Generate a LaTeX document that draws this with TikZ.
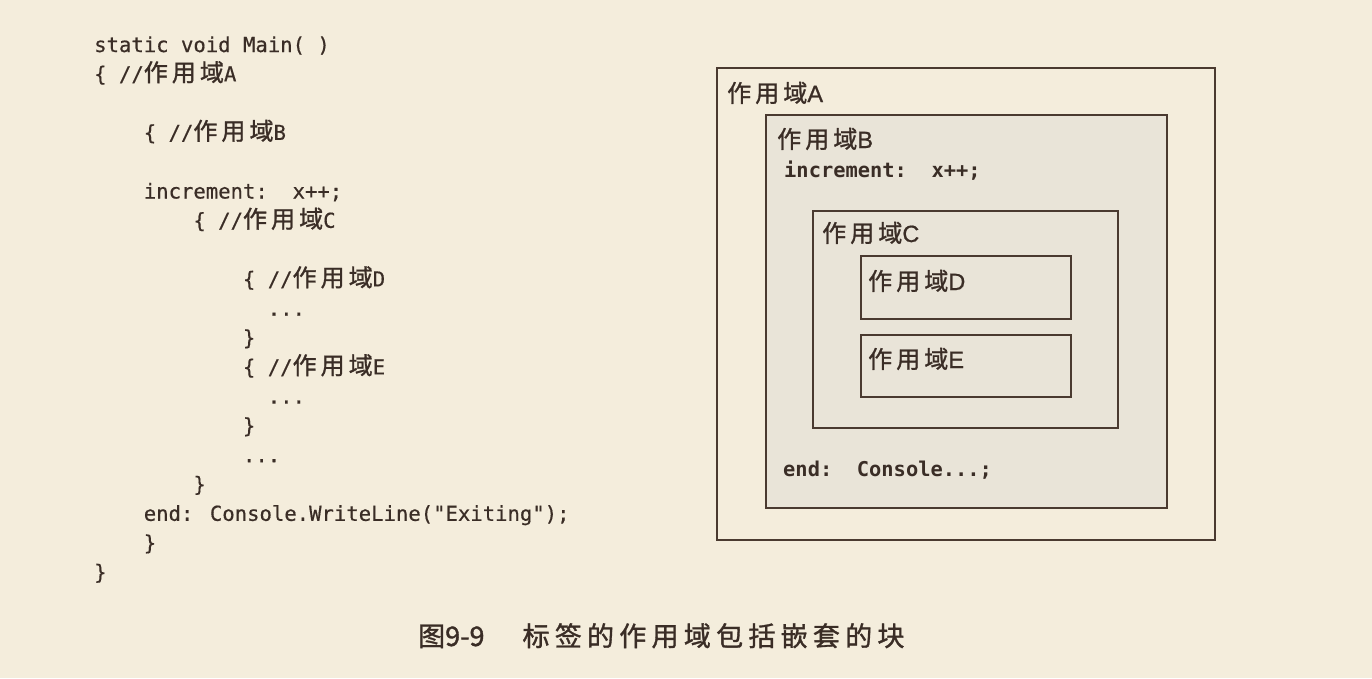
\documentclass[tikz,border=0pt]{standalone}
\usepackage{fontspec}
\setmainfont{Liberation Sans}
\setmonofont{DejaVu Sans Mono}
\newfontfamily\codefont[FakeBold=0.5]{DejaVu Sans Mono}
\newfontfamily\labfont[FakeBold=0.8]{Liberation Sans}
\newfontfamily\cjk[LetterSpace=17,FakeBold=1.2]{Noto Sans CJK SC}
\newfontfamily\capfont[FakeBold=1.2]{Noto Sans CJK SC}
\usetikzlibrary{positioning}

\definecolor{paper}{HTML}{F4EDDC}
\definecolor{scopefill}{HTML}{E9E4D8}
\definecolor{ink}{HTML}{3A2D26}
\definecolor{rule}{HTML}{4A3A30}

\newcommand\zyy{{\cjk\fontsize{24}{26}\selectfont 作用域}}

\tikzset{
  code/.style={anchor=base west,inner sep=0pt,text=ink,
    font=\codefont\fontsize{20.6}{24}\selectfont},
  boldcode/.style={code,font=\ttfamily\bfseries\fontsize{20.4}{24}\selectfont},
  lab/.style={anchor=base west,inner sep=0pt,text=ink,
    font=\labfont\fontsize{23.5}{26}\selectfont},
  scopebox/.style={draw=rule,line width=2.5pt,fill=scopefill}
}

\begin{document}
\begin{tikzpicture}[x=1pt,y=-1pt]
\useasboundingbox (0,0) rectangle (1372,678);
\fill[paper] (0,0) rectangle (1372,678);

% code on the left
\foreach \n/\i/\r/\t in {
  l0/0/0/{static void Main( )},
  l1/0/1/{\{ //\zyy A},
  l2/4/3/{\{ //\zyy B},
  l3/4/5/{increment:\ \ x++;},
  l4/8/6/{\{ //\zyy C},
  l5/12/8/{\{ //\zyy D},
  l6/14/9/{...},
  l7/12/10/{\}},
  l8/12/11/{\{ //\zyy E},
  l9/14/12/{...},
  l10/12/13/{\}},
  l11/12/14/{...},
  l12/8/15/{\}},
  l13/4/16/{end: Console.WriteLine("Exiting");},
  l14/4/17/{\}},
  l15/0/18/{\}}}
  \node[code] (\n) at (94+12.4*\i,52+29.3*\r) {\t};

% nested scopes
\draw[scopebox,fill=paper] (717,68) rectangle (1215,540);
\draw[scopebox] (766,115) rectangle (1167,508);
\draw[scopebox] (813,211) rectangle (1118,428);
\draw[scopebox] (861,256) rectangle (1071,319);
\draw[scopebox] (861,335) rectangle (1071,397);

\node[lab] (labA) at (727,102) {\zyy A};
\node[lab] (labB) at (777,148) {\zyy B};
\node[boldcode] (inc) at (784,177) {increment:\ \ x++;};
\node[lab] (labC) at (822,242) {\zyy C};
\node[lab] (labD) at (868,290) {\zyy D};
\node[lab] (labE) at (868,368) {\zyy E};
\node[boldcode] (fin) at (783,476) {end:\ \ Console...;};

% caption
\node[anchor=base west,inner sep=0pt,text=ink,font=\capfont\fontsize{27}{30}\selectfont]
  (cap) at (418,646) {图9-9\hspace{38pt}{\addfontfeature{LetterSpace=19.5}标签的作用域包括嵌套的块}};
\end{tikzpicture}
\end{document}
